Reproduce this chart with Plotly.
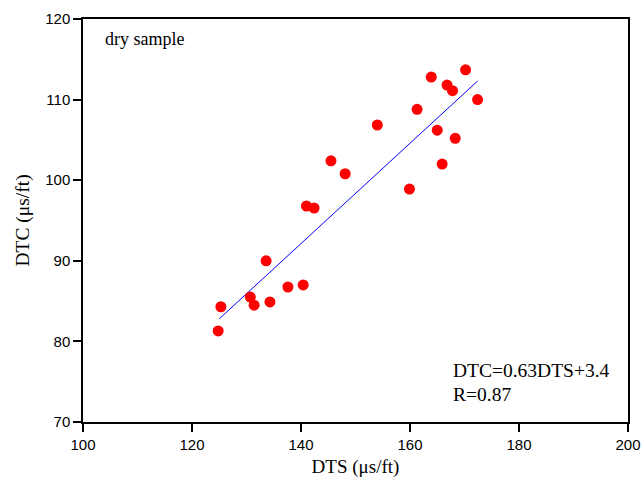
import plotly.graph_objects as go

dts = [124.8, 125.3, 130.7, 131.4, 133.6, 134.3, 137.6, 140.4, 141.0, 142.4,
       145.5, 148.1, 154.0, 159.9, 161.3, 163.9, 165.0, 165.9, 166.8, 167.8,
       168.3, 170.2, 172.4]
dtc = [81.3, 84.3, 85.5, 84.5, 90.0, 84.9, 86.75, 87.0, 96.8, 96.55,
       102.4, 100.8, 106.85, 98.9, 108.8, 112.8, 106.2, 102.0, 111.8, 111.1,
       105.2, 113.7, 110.0]
fit_x = [125.0, 172.4]
fit_y = [82.8, 112.3]
eq_lines = ["DTC=0.63DTS+3.4", "R=0.87"]

serif = "Liberation Serif, Times New Roman, serif"
sans = "Liberation Sans, Arial, sans-serif"

fig = go.Figure()
fig.add_trace(go.Scatter(x=fit_x, y=fit_y, mode="lines",
                         line=dict(color="blue", width=1), showlegend=False))
fig.add_trace(go.Scatter(x=dts, y=dtc, mode="markers",
                         marker=dict(color="red", size=11), showlegend=False))

axis_common = dict(showgrid=False, zeroline=False, showline=True, mirror=True,
                   linecolor="black", linewidth=1.5, ticks="outside", ticklen=8,
                   tickwidth=1.5, tickcolor="black", automargin=False,
                   tickfont=dict(family=sans, size=15, color="black"))

fig.update_xaxes(range=[100, 200], tick0=100, dtick=20,
                 title=dict(text="DTS (μs/ft)", font=dict(family=serif, size=19, color="black"),
                            standoff=8),
                 **axis_common)
fig.update_yaxes(range=[70, 120], tick0=70, dtick=10,
                 title=dict(text="DTC (μs/ft)", font=dict(family=serif, size=19.5, color="black"),
                            standoff=10),
                 **axis_common)

fig.add_annotation(x=0.037, y=0.95, xref="paper", yref="paper", xanchor="left", yanchor="middle",
                   text="dry sample", showarrow=False, font=dict(family=serif, size=18, color="black"))
for txt, yp in zip(eq_lines, [0.129, 0.069]):
    fig.add_annotation(x=0.676, y=yp, xref="paper", yref="paper", xanchor="left", yanchor="middle",
                       text=txt, align="left", showarrow=False,
                       font=dict(family=serif, size=19.5, color="black"))

fig.update_layout(width=641, height=479, plot_bgcolor="white", paper_bgcolor="white",
                  template="none",
                  margin=dict(l=83, r=13, t=19, b=57))
fig.write_html("out.html")
